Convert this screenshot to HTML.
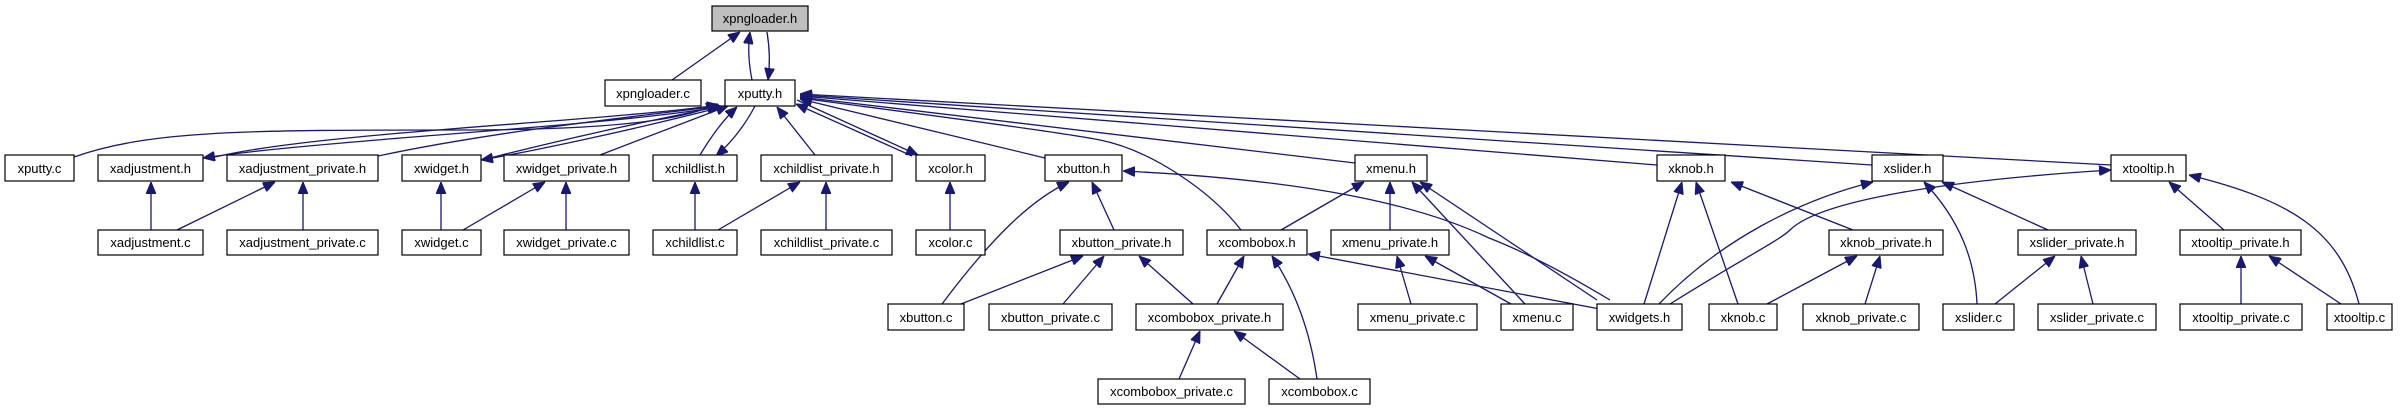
<!DOCTYPE html>
<html><head><meta charset="utf-8"><style>
html,body{margin:0;padding:0;background:#fff;}
svg{display:block;}
text{font-family:"Liberation Sans",Arial,sans-serif;font-size:13px;fill:#000;text-anchor:middle;}
rect{fill:#fff;stroke:#000;stroke-width:1.2;}
path{fill:none;stroke:#191970;stroke-width:1.3;}
</style></head><body>
<svg width="2407" height="411" viewBox="0 0 2407 411" xmlns="http://www.w3.org/2000/svg">
<defs><marker id="a" markerUnits="userSpaceOnUse" markerWidth="12" markerHeight="10" refX="12" refY="5" orient="auto"><path d="M0,0 L12,5 L0,10 z" style="fill:#191970;stroke:#191970;stroke-width:1"/></marker></defs>
<g marker-end="url(#a)">
<path d="M672,80 L740,32"/>
<path d="M752,80 C748,60 748,45 750,32"/>
<path d="M767,32 C770,50 770,65 768,80"/>
<path d="M74,157 C150,130 250,130 460,130 S700,110 718,104"/>
<path d="M215,157 C320,132 600,122 719,105"/>
<path d="M719,107 C600,127 320,140 203,158"/>
<path d="M378,156 C500,130 650,115 720,106"/>
<path d="M490,158 C600,130 680,115 721,106"/>
<path d="M722,107 C640,128 540,150 481,160"/>
<path d="M600,155 L728,106"/>
<path d="M700,155 C712,135 725,118 737,107"/>
<path d="M755,106 C745,125 732,142 716,156"/>
<path d="M815,155 L777,107"/>
<path d="M797,100 L918,155"/>
<path d="M912,156 L796,104"/>
<path d="M1045,158 L800,99"/>
<path d="M1241,230 C1210,190 1150,150 1100,140 S850,105 800,98"/>
<path d="M1355,163 L800,97"/>
<path d="M1657,165 L800,96"/>
<path d="M1872,165 L800,95"/>
<path d="M2111,165 L800,94"/>
<path d="M151,230 L151,182"/>
<path d="M177,230 L275,182"/>
<path d="M303,230 L303,182"/>
<path d="M441,230 L441,182"/>
<path d="M463,230 L545,182"/>
<path d="M566,230 L566,182"/>
<path d="M695,230 L695,182"/>
<path d="M718,230 L800,182"/>
<path d="M826,230 L826,182"/>
<path d="M950,230 L950,182"/>
<path d="M942,304 C990,240 1030,200 1069,182"/>
<path d="M1114,230 L1092,182"/>
<path d="M961,304 L1083,256"/>
<path d="M1063,304 L1104,256"/>
<path d="M1193,304 L1139,256"/>
<path d="M1281,230 L1364,182"/>
<path d="M1390,230 L1390,182"/>
<path d="M1525,304 L1412,182"/>
<path d="M1597,300 L1420,182"/>
<path d="M1610,300 C1560,270 1520,250 1489,238 C1420,205 1310,180 1123,171"/>
<path d="M1217,304 L1244,256"/>
<path d="M1317,379 C1310,330 1295,290 1272,256"/>
<path d="M1600,309 L1308,254"/>
<path d="M1411,304 L1397,256"/>
<path d="M1511,304 L1425,256"/>
<path d="M1179,379 L1200,331"/>
<path d="M1300,379 L1234,331"/>
<path d="M1644,304 L1682,182"/>
<path d="M1738,304 L1696,182"/>
<path d="M1853,230 L1731,182"/>
<path d="M1659,304 C1720,240 1800,200 1873,182"/>
<path d="M1670,304 C1740,260 1780,240 1790,230 C1820,200 1950,180 2111,170"/>
<path d="M1767,304 L1857,256"/>
<path d="M1865,304 L1880,256"/>
<path d="M1977,304 C1975,260 1960,220 1924,182"/>
<path d="M2048,230 L1942,182"/>
<path d="M1995,304 L2055,256"/>
<path d="M2093,304 L2081,256"/>
<path d="M2224,230 L2169,182"/>
<path d="M2359,304 C2340,230 2290,200 2189,175"/>
<path d="M2241,304 L2241,256"/>
<path d="M2341,304 L2269,256"/>
</g>
<rect x="712" y="6" width="96" height="25" style="fill:#bfbfbf"/><text x="760" y="23">xpngloader.h</text>
<rect x="605" y="80" width="96" height="26"/><text x="653" y="98">xpngloader.c</text>
<rect x="725" y="80" width="70" height="26"/><text x="760" y="98">xputty.h</text>
<g>
<rect x="5" y="155" width="69" height="26"/><text x="39.5" y="173">xputty.c</text>
<rect x="98" y="155" width="105" height="26"/><text x="150.5" y="173">xadjustment.h</text>
<rect x="227" y="155" width="151" height="26"/><text x="302.5" y="173">xadjustment_private.h</text>
<rect x="402" y="155" width="79" height="26"/><text x="441.5" y="173">xwidget.h</text>
<rect x="504" y="155" width="125" height="26"/><text x="566.5" y="173">xwidget_private.h</text>
<rect x="653" y="155" width="84" height="26"/><text x="695" y="173">xchildlist.h</text>
<rect x="761" y="155" width="131" height="26"/><text x="826.5" y="173">xchildlist_private.h</text>
<rect x="916" y="155" width="69" height="26"/><text x="950.5" y="173">xcolor.h</text>
<rect x="1045" y="155" width="77" height="26"/><text x="1083.5" y="173">xbutton.h</text>
<rect x="1355" y="155" width="72" height="26"/><text x="1391" y="173">xmenu.h</text>
<rect x="1657" y="155" width="68" height="26"/><text x="1691" y="173">xknob.h</text>
<rect x="1872" y="155" width="71" height="26"/><text x="1907.5" y="173">xslider.h</text>
<rect x="2111" y="155" width="75" height="26"/><text x="2148.5" y="173">xtooltip.h</text>
</g>
<g>
<rect x="98" y="230" width="105" height="25"/><text x="150.5" y="247">xadjustment.c</text>
<rect x="227" y="230" width="151" height="25"/><text x="302.5" y="247">xadjustment_private.c</text>
<rect x="402" y="230" width="79" height="25"/><text x="441.5" y="247">xwidget.c</text>
<rect x="504" y="230" width="125" height="25"/><text x="566.5" y="247">xwidget_private.c</text>
<rect x="653" y="230" width="84" height="25"/><text x="695" y="247">xchildlist.c</text>
<rect x="761" y="230" width="131" height="25"/><text x="826.5" y="247">xchildlist_private.c</text>
<rect x="916" y="230" width="69" height="25"/><text x="950.5" y="247">xcolor.c</text>
<rect x="1060" y="230" width="123" height="25"/><text x="1121.5" y="247">xbutton_private.h</text>
<rect x="1207" y="230" width="100" height="25"/><text x="1257" y="247">xcombobox.h</text>
<rect x="1331" y="230" width="118" height="25"/><text x="1390" y="247">xmenu_private.h</text>
<rect x="1829" y="230" width="114" height="25"/><text x="1886" y="247">xknob_private.h</text>
<rect x="2018" y="230" width="118" height="25"/><text x="2077" y="247">xslider_private.h</text>
<rect x="2180" y="230" width="121" height="25"/><text x="2240.5" y="247">xtooltip_private.h</text>
</g>
<g>
<rect x="888" y="304" width="76" height="26"/><text x="926" y="322">xbutton.c</text>
<rect x="989" y="304" width="123" height="26"/><text x="1050.5" y="322">xbutton_private.c</text>
<rect x="1136" y="304" width="147" height="26"/><text x="1209.5" y="322">xcombobox_private.h</text>
<rect x="1358" y="304" width="119" height="26"/><text x="1417.5" y="322">xmenu_private.c</text>
<rect x="1501" y="304" width="72" height="26"/><text x="1537" y="322">xmenu.c</text>
<rect x="1597" y="304" width="85" height="26"/><text x="1639.5" y="322">xwidgets.h</text>
<rect x="1709" y="304" width="68" height="26"/><text x="1743" y="322">xknob.c</text>
<rect x="1803" y="304" width="116" height="26"/><text x="1861" y="322">xknob_private.c</text>
<rect x="1943" y="304" width="71" height="26"/><text x="1978.5" y="322">xslider.c</text>
<rect x="2038" y="304" width="118" height="26"/><text x="2097" y="322">xslider_private.c</text>
<rect x="2180" y="304" width="122" height="26"/><text x="2241" y="322">xtooltip_private.c</text>
<rect x="2327" y="304" width="65" height="26"/><text x="2359.5" y="322">xtooltip.c</text>
</g>
<rect x="1098" y="379" width="147" height="25"/><text x="1171.5" y="396">xcombobox_private.c</text>
<rect x="1269" y="379" width="101" height="25"/><text x="1319.5" y="396">xcombobox.c</text>
</svg>
</body></html>
